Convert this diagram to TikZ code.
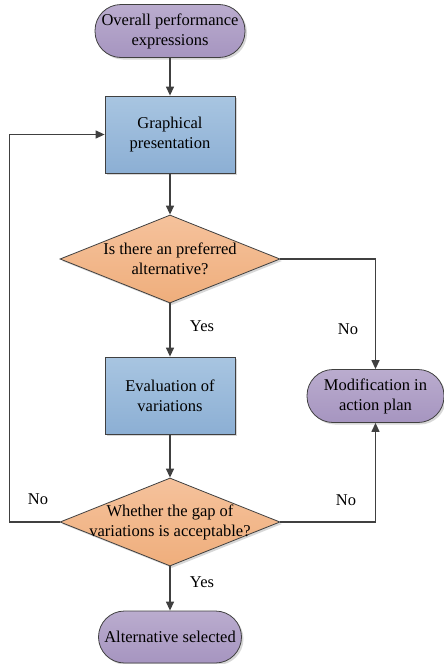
\documentclass[tikz,border=0pt]{standalone}
\usepackage{fontspec}
\setmainfont{Liberation Serif}
\usetikzlibrary{shapes.geometric,arrows.meta,shadows}
\definecolor{lineclr}{RGB}{64,64,64}
\definecolor{purpletop}{RGB}{186,172,206}
\definecolor{purplebot}{RGB}{166,149,192}
\definecolor{bluetop}{RGB}{168,197,225}
\definecolor{bluebot}{RGB}{140,175,212}
\definecolor{orangetop}{RGB}{245,194,156}
\definecolor{orangebot}{RGB}{239,174,124}
\tikzset{
  shade box/.style={drop shadow={shadow xshift=2pt,shadow yshift=-2pt,fill=black!35,opacity=.45}},
  terminal/.style={rectangle,rounded corners=26pt,draw=lineclr,line width=0.8pt,
    top color=purpletop,bottom color=purplebot,minimum height=53pt,align=center,shade box,inner sep=2pt},
  process/.style={rectangle,draw=lineclr,line width=0.8pt,top color=bluetop,bottom color=bluebot,
    minimum width=130pt,minimum height=77pt,align=center,shade box},
  decision/.style={diamond,draw=lineclr,line width=0.8pt,top color=orangetop,bottom color=orangebot,
    minimum width=220pt,minimum height=88pt,inner sep=0pt,shade box},
  flow/.style={draw=lineclr,line width=1.3pt,-{Triangle[width=8pt,length=9pt]}},
  answer/.style={inner sep=0pt}
}
\begin{document}
\begin{tikzpicture}[x=1pt,y=-1pt,font=\fontsize{16.5}{20}\selectfont]
  \useasboundingbox (0,0) rectangle (444,664);
  % main column
  \node[terminal,minimum width=150pt] (start) at (170,31) {Overall performance\\expressions};
  \node[process] (graph) at (170,134.5) {Graphical\\presentation};
  \node[decision,label={[align=center]center:Is there an preferred\\alternative?}] (pref) at (170,259) {};
  \node[process] (eval) at (170,395.5) {Evaluation of\\variations};
  \node[decision,label={[align=center]center:Whether the gap of\\variations is acceptable?}] (gap) at (170,522) {};
  \node[terminal,minimum width=143pt,minimum height=52pt] (select) at (170,637) {Alternative selected};
  % right side
  \node[terminal,minimum width=137pt] (modif) at (375.5,396) {Modification in\\action plan};
  % answers
  \node[answer] (yes1) at (202,326) {Yes};
  \node[answer] (no1) at (348,329) {No};
  \node[answer] (no2) at (346,500) {No};
  \node[answer] (no3) at (38,499) {No};
  \node[answer] (yes2) at (202,582) {Yes};
  % connectors
  \draw[flow] (start) -- (graph);
  \draw[flow] (graph) -- (pref);
  \draw[flow] (pref) -- (eval);
  \draw[flow] (eval) -- (gap);
  \draw[flow] (gap) -- (select);
  \draw[flow] (pref.east) -| (modif.north);
  \draw[flow] (gap.east) -| (modif.south);
  \draw[flow] (gap.west) -- ++(-50,0) |- (graph.west);
\end{tikzpicture}
\end{document}
